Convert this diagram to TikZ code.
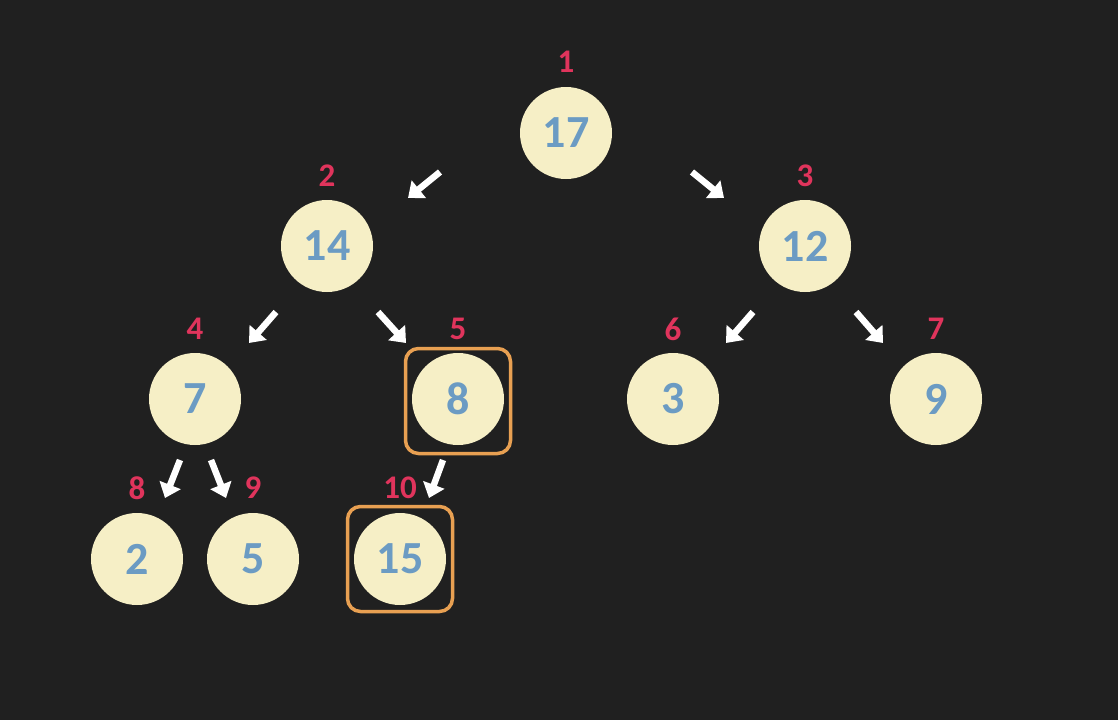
\documentclass[tikz,border=0pt]{standalone}
\usepackage{fontspec}
\setmainfont{Carlito}
\usetikzlibrary{arrows.meta}
\definecolor{bg}{HTML}{202020}
\definecolor{nodefill}{HTML}{F6EFC6}
\definecolor{numcol}{HTML}{6B9BC3}
\definecolor{idxcol}{HTML}{E0345C}
\definecolor{boxcol}{HTML}{E8A052}
\begin{document}
\begin{tikzpicture}[x=1pt,y=-1pt,
  heapnode/.style={circle,fill=nodefill,minimum size=92pt,inner sep=0pt,text=numcol,font=\fontsize{46}{50}\selectfont\bfseries},
  idx/.style={text=idxcol,font=\fontsize{33}{38}\selectfont\bfseries,inner sep=0pt},
  arr/.style={draw=white,line width=6.5pt,-{Triangle[length=14pt,width=22pt]}},
  hl/.style={draw=boxcol,line width=3.5pt,rounded corners=13pt,minimum size=105pt,inner sep=0pt}]
\fill[bg] (0,0) rectangle (1118,720);
\useasboundingbox (0,0) rectangle (1118,720);
% nodes
\node[heapnode] (n1) at (566,133) {17};
\node[heapnode] (n2) at (327,246) {14};
\node[heapnode] (n3) at (805,246) {12};
\node[heapnode] (n4) at (195,399) {7};
\node[heapnode] (n5) at (458,399) {8};
\node[heapnode] (n6) at (673,399) {3};
\node[heapnode] (n7) at (936,399) {9};
\node[heapnode] (n8) at (137,559) {2};
\node[heapnode] (n9) at (253,559) {5};
\node[heapnode] (n10) at (400,559) {15};
% highlight boxes
\node[hl] (h5) at (458,401) {};
\node[hl] (h10) at (400,559) {};
% index labels
\node[idx] (i1) at (566,62) {1};
\node[idx] (i2) at (327,176) {2};
\node[idx] (i3) at (805,176) {3};
\node[idx] (i4) at (195,329) {4};
\node[idx] (i5) at (458,329) {5};
\node[idx] (i6) at (673,329) {6};
\node[idx] (i7) at (936,329) {7};
\node[idx] (i8) at (137,488) {8};
\node[idx] (i9) at (253,488) {9};
\node[idx] (i10) at (400,488) {10};
% arrow endpoints
\coordinate (a12s) at (440,172); \coordinate (a12e) at (408,198);
\coordinate (a13s) at (692,172); \coordinate (a13e) at (724,198);
\coordinate (a24s) at (276,312); \coordinate (a24e) at (249,343);
\coordinate (a25s) at (378,312); \coordinate (a25e) at (406,343);
\coordinate (a36s) at (753,312); \coordinate (a36e) at (726,343);
\coordinate (a37s) at (856,312); \coordinate (a37e) at (883,343);
\coordinate (a48s) at (180,460); \coordinate (a48e) at (165,498);
\coordinate (a49s) at (211,460); \coordinate (a49e) at (226,498);
\coordinate (a510s) at (443,460); \coordinate (a510e) at (429,498);
\draw[arr] (a12s) -- (a12e);
\draw[arr] (a13s) -- (a13e);
\draw[arr] (a24s) -- (a24e);
\draw[arr] (a25s) -- (a25e);
\draw[arr] (a36s) -- (a36e);
\draw[arr] (a37s) -- (a37e);
\draw[arr] (a48s) -- (a48e);
\draw[arr] (a49s) -- (a49e);
\draw[arr] (a510s) -- (a510e);
\end{tikzpicture}
\end{document}
